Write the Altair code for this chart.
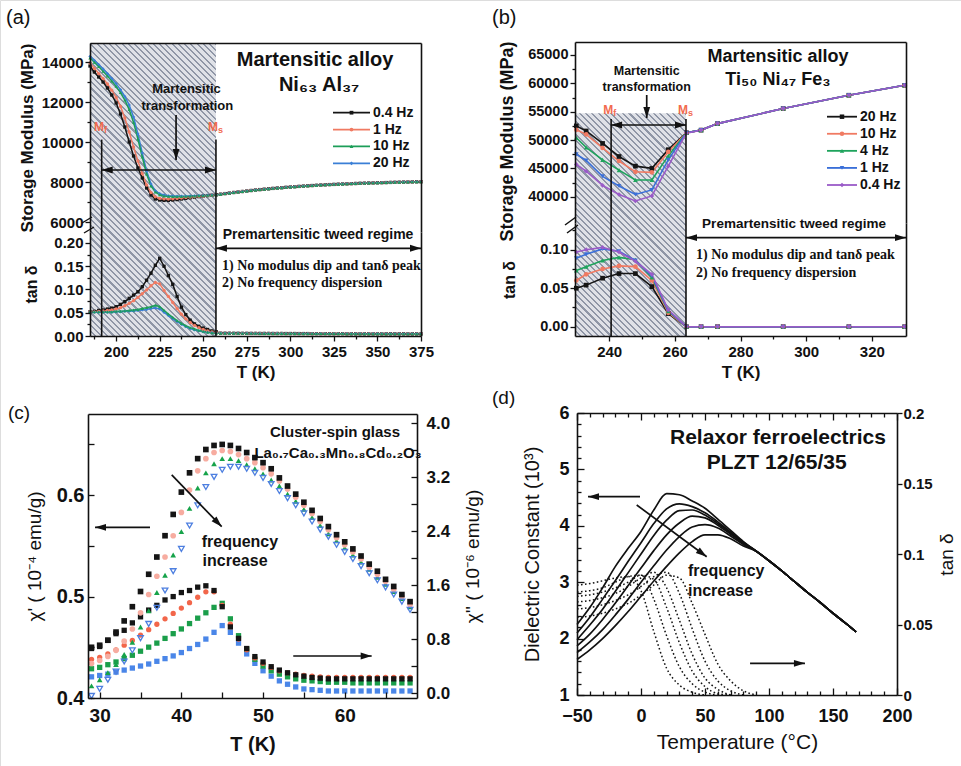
import math
import altair as alt
import pandas as pd

W, H = 961, 766
SANS = "Liberation Sans"
SERIF = "Liberation Serif"
BLK = "#111111"
RED = "#f26b4f"
LIGHT = "#dfe1e7"
DARK = "#8f96a6"

# ======================= DATA =======================
# ---- (a) Ni63Al37 ----
a_names = ["0.4 Hz", "1 Hz", "10 Hz", "20 Hz"]
a_draw = ["0.4 Hz", "1 Hz", "20 Hz", "10 Hz"]
a_colors = ["#151515", "#f07a62", "#1c9e58", "#3a7fd6"]
a_shapes = ["square", "circle", "triangle-up", "diamond"]
a_T_head = [185, 187.5, 190, 192.5, 195, 197.5, 200, 202.5, 205, 207.5,
            210, 212.5, 215, 217.5, 220, 222.5, 225, 227.5, 230, 232.5,
            235, 237.5, 240, 242.5, 245, 247.5, 250, 252.5, 255, 257.5]
a_T_tail = [260, 262.5, 265, 267.5, 270, 272.5, 275, 277.5, 280, 282.5,
            285, 287.5, 290, 292.5, 295, 297.5, 300, 302.5, 305, 307.5,
            310, 312.5, 315, 317.5, 320, 322.5, 325, 327.5, 330, 332.5,
            335, 337.5, 340, 342.5, 345, 347.5, 350, 352.5, 355, 357.5,
            360, 362.5, 365, 367.5, 370, 372.5, 375]
a_mod_head = {
    "0.4 Hz": [13800, 13500, 13250, 13000, 12700, 12350, 11950, 11400, 10750, 10000,
               9300, 8700, 8200, 7700, 7350, 7150, 7100, 7080, 7080, 7100,
               7120, 7150, 7180, 7210, 7240, 7270, 7300, 7320, 7340, 7360],
    "1 Hz": [13950, 13680, 13420, 13170, 12900, 12590, 12230, 11780, 11200, 10500,
             9750, 9050, 8420, 7850, 7470, 7260, 7180, 7160, 7150, 7160,
             7180, 7200, 7220, 7240, 7260, 7280, 7300, 7320, 7340, 7360],
    "10 Hz": [14200, 13990, 13770, 13540, 13300, 13050, 12780, 12470, 12100, 11620,
              10980, 10150, 9250, 8400, 7800, 7500, 7360, 7300, 7280, 7270,
              7270, 7270, 7280, 7290, 7300, 7310, 7320, 7330, 7345, 7360],
    "20 Hz": [14280, 14080, 13870, 13650, 13420, 13180, 12920, 12620, 12280, 11850,
              11250, 10400, 9450, 8550, 7900, 7560, 7420, 7350, 7310, 7300,
              7290, 7290, 7290, 7300, 7310, 7320, 7330, 7340, 7350, 7360],
}
a_mod_tail = [7390, 7420, 7445, 7475, 7500, 7525, 7550, 7575, 7600, 7620,
              7640, 7660, 7680, 7698, 7715, 7733, 7750, 7765, 7780, 7795,
              7810, 7823, 7835, 7848, 7860, 7870, 7880, 7890, 7900, 7909,
              7918, 7926, 7935, 7941, 7948, 7954, 7960, 7966, 7972, 7979,
              7985, 7990, 7995, 8000, 8005, 8010, 8015]
a_tan_head = {
    "0.4 Hz": [0.052, 0.053, 0.055, 0.056, 0.058, 0.060, 0.063, 0.068, 0.074, 0.081,
               0.088, 0.095, 0.106, 0.120, 0.135, 0.152, 0.167, 0.150, 0.130, 0.111,
               0.085, 0.062, 0.046, 0.034, 0.026, 0.021, 0.017, 0.014, 0.011, 0.009],
    "1 Hz": [0.052, 0.052, 0.053, 0.054, 0.055, 0.056, 0.058, 0.061, 0.065, 0.070,
             0.076, 0.083, 0.091, 0.099, 0.108, 0.115, 0.112, 0.098, 0.085, 0.072,
             0.059, 0.047, 0.037, 0.029, 0.023, 0.018, 0.014, 0.011, 0.009, 0.007],
    "10 Hz": [0.052, 0.052, 0.052, 0.052, 0.052, 0.052, 0.053, 0.053, 0.054, 0.055,
              0.056, 0.057, 0.059, 0.061, 0.063, 0.066, 0.063, 0.055, 0.047, 0.040,
              0.033, 0.027, 0.022, 0.018, 0.015, 0.012, 0.010, 0.008, 0.007, 0.006],
    "20 Hz": [0.051, 0.051, 0.051, 0.051, 0.051, 0.051, 0.052, 0.052, 0.053, 0.053,
              0.054, 0.055, 0.056, 0.057, 0.059, 0.060, 0.058, 0.051, 0.044, 0.037,
              0.031, 0.025, 0.020, 0.016, 0.013, 0.011, 0.009, 0.008, 0.007, 0.006],
}
a_tan_tail = [0.0060, 0.0059, 0.0059, 0.0058, 0.0058, 0.0057, 0.0057, 0.0056, 0.0056, 0.0055,
              0.0055, 0.0055, 0.0054, 0.0054, 0.0054, 0.0053, 0.0053, 0.0053, 0.0052, 0.0052,
              0.0052, 0.0051, 0.0051, 0.0051, 0.0051, 0.0050, 0.0050, 0.0050, 0.0050, 0.0049,
              0.0049, 0.0049, 0.0049, 0.0048, 0.0048, 0.0048, 0.0048, 0.0048, 0.0047, 0.0047,
              0.0047, 0.0047, 0.0047, 0.0046, 0.0046, 0.0046, 0.0046]
a_Mf, a_Ms = 191.7, 257.3

# ---- (b) Ti50Ni47Fe3 ----
b_names = ["20 Hz", "10 Hz", "4 Hz", "1 Hz", "0.4 Hz"]
b_colors = ["#151515", "#f07a62", "#1ea35c", "#3a6fd8", "#9a5bc8"]
b_shapes = ["square", "circle", "triangle-up", "triangle-down", "diamond"]
b_T = [230, 233, 238, 243, 248, 253, 258, 263.5, 268, 273, 293, 313, 330]
b_mod_head = {
    "20 Hz": [52500, 51600, 49400, 47100, 45400, 45000, 48300, 51300],
    "10 Hz": [51800, 51000, 48600, 46300, 44400, 44300, 47900, 51300],
    "4 Hz": [50400, 48700, 46500, 44700, 42950, 42950, 47200, 51300],
    "1 Hz": [47500, 46400, 43600, 41900, 40400, 41200, 46500, 51300],
    "0.4 Hz": [45700, 44500, 42000, 40400, 39250, 40150, 45400, 51200],
}
b_mod_tail = [51750, 52900, 55550, 57900, 59650]
b_tan_head = {
    "20 Hz": [0.050, 0.054, 0.063, 0.069, 0.069, 0.052, 0.017, 0.0],
    "10 Hz": [0.060, 0.068, 0.075, 0.079, 0.078, 0.060, 0.018, 0.0],
    "4 Hz": [0.073, 0.078, 0.086, 0.090, 0.087, 0.064, 0.020, 0.0],
    "1 Hz": [0.089, 0.094, 0.101, 0.098, 0.086, 0.066, 0.021, 0.0],
    "0.4 Hz": [0.097, 0.100, 0.103, 0.097, 0.085, 0.068, 0.022, 0.0],
}
b_tan_tail = [0.0, 0.0, 0.0, 0.0, 0.0]
b_Mf, b_Ms = 240.6, 263.4

# ---- (c) cluster-spin glass ----
c_T = [29, 30, 31, 32, 33, 34, 35, 36, 37, 38,
       39, 40, 41, 42, 43, 44, 45, 46, 47, 48,
       49, 50, 51, 52, 53, 54, 55, 56, 57, 58,
       59, 60, 61, 62, 63, 64, 65, 66, 67, 68]
c_chi1 = {
    "k": [0.450, 0.452, 0.457, 0.465, 0.476, 0.490, 0.505, 0.522, 0.539, 0.560,
          0.581, 0.603, 0.622, 0.636, 0.645, 0.649, 0.650, 0.649, 0.646, 0.642,
          0.637, 0.632, 0.626, 0.617, 0.609, 0.601, 0.593, 0.585, 0.577, 0.569,
          0.561, 0.554, 0.547, 0.540, 0.532, 0.525, 0.517, 0.510, 0.502, 0.495],
    "p": [0.434, 0.437, 0.441, 0.447, 0.456, 0.468, 0.484, 0.502, 0.520, 0.539,
          0.560, 0.583, 0.605, 0.624, 0.636, 0.642, 0.644, 0.643, 0.640, 0.636,
          0.632, 0.627, 0.621, 0.614, 0.606, 0.598, 0.590, 0.582, 0.574, 0.566,
          0.558, 0.551, 0.544, 0.537, 0.529, 0.522, 0.515, 0.507, 0.500, 0.492],
    "g": [0.412, 0.418, 0.425, 0.433, 0.443, 0.455, 0.470, 0.486, 0.504, 0.521,
          0.541, 0.564, 0.587, 0.607, 0.622, 0.631, 0.636, 0.636, 0.634, 0.630,
          0.626, 0.621, 0.615, 0.609, 0.601, 0.594, 0.586, 0.578, 0.570, 0.562,
          0.555, 0.548, 0.541, 0.534, 0.527, 0.519, 0.512, 0.505, 0.498, 0.490],
    "b": [0.402, 0.409, 0.418, 0.426, 0.436, 0.447, 0.459, 0.473, 0.489, 0.506,
          0.525, 0.547, 0.570, 0.590, 0.608, 0.618, 0.625, 0.628, 0.628, 0.626,
          0.622, 0.617, 0.611, 0.604, 0.597, 0.590, 0.582, 0.574, 0.566, 0.559,
          0.551, 0.544, 0.537, 0.530, 0.523, 0.516, 0.509, 0.502, 0.495, 0.487],
}
c_chi2 = {
    "k": [0.66, 0.69, 0.78, 0.88, 0.93, 1.04, 1.13, 1.23, 1.30, 1.38,
          1.43, 1.49, 1.52, 1.57, 1.59, 1.52, 1.28, 0.98, 0.81, 0.66,
          0.54, 0.46, 0.39, 0.34, 0.30, 0.27, 0.25, 0.23, 0.22, 0.21,
          0.21, 0.21, 0.21, 0.21, 0.21, 0.21, 0.21, 0.21, 0.21, 0.21],
    "r": [0.50, 0.53, 0.58, 0.64, 0.71, 0.78, 0.86, 0.94, 1.02, 1.10,
          1.18, 1.26, 1.34, 1.42, 1.50, 1.50, 1.30, 1.02, 0.80, 0.64,
          0.52, 0.44, 0.38, 0.33, 0.30, 0.28, 0.26, 0.25, 0.24, 0.23,
          0.23, 0.23, 0.23, 0.23, 0.23, 0.23, 0.23, 0.23, 0.23, 0.23],
    "g": [0.36, 0.38, 0.42, 0.46, 0.51, 0.56, 0.62, 0.68, 0.74, 0.81,
          0.88, 0.95, 1.03, 1.11, 1.19, 1.27, 1.33, 1.10, 0.85, 0.65,
          0.50, 0.40, 0.33, 0.28, 0.24, 0.21, 0.19, 0.18, 0.17, 0.16,
          0.16, 0.16, 0.15, 0.15, 0.15, 0.15, 0.15, 0.15, 0.15, 0.15],
    "b": [0.24, 0.26, 0.28, 0.31, 0.34, 0.37, 0.40, 0.43, 0.47, 0.51,
          0.55, 0.60, 0.66, 0.72, 0.80, 0.90, 1.00, 0.90, 0.74, 0.58,
          0.44, 0.33, 0.25, 0.18, 0.13, 0.09, 0.06, 0.05, 0.04, 0.03,
          0.03, 0.03, 0.03, 0.03, 0.03, 0.03, 0.03, 0.03, 0.03, 0.03],
}

# ---- (d) PLZT relaxor ----
d_T_head = [-50, -40, -30, -20, -10, 0, 10, 20, 30, 40, 50, 60, 70, 80]
d_T_tail = [90, 100, 110, 120, 130, 140, 150, 160, 168]
d_eps_head = {
    "e1": [2.25, 2.55, 2.90, 3.28, 3.60, 3.90, 4.28, 4.57, 4.55, 4.44, 4.31, 4.12, 3.92, 3.72],
    "e2": [2.10, 2.38, 2.70, 3.03, 3.37, 3.70, 4.04, 4.30, 4.39, 4.34, 4.23, 4.07, 3.89, 3.71],
    "e3": [1.98, 2.24, 2.52, 2.84, 3.17, 3.50, 3.83, 4.10, 4.27, 4.28, 4.19, 4.04, 3.87, 3.70],
    "e4": [1.87, 2.08, 2.34, 2.63, 2.94, 3.25, 3.56, 3.84, 4.05, 4.17, 4.14, 4.01, 3.85, 3.69],
    "e5": [1.75, 1.94, 2.16, 2.42, 2.70, 3.00, 3.29, 3.57, 3.81, 3.98, 4.02, 3.96, 3.82, 3.67],
    "e6": [1.63, 1.80, 2.00, 2.23, 2.48, 2.75, 3.02, 3.28, 3.52, 3.72, 3.84, 3.84, 3.77, 3.64],
}
d_eps_tail = [3.55, 3.38, 3.20, 3.01, 2.82, 2.64, 2.45, 2.27, 2.12]
d_tan = {
    "t1": ([-50, -40, -30, -20, -10, 0, 10, 20, 30, 40, 50],
           [0.078, 0.079, 0.081, 0.083, 0.084, 0.074, 0.045, 0.019, 0.007, 0.002, 0.0]),
    "t2": ([-50, -40, -30, -20, -10, 0, 10, 20, 30, 40, 50, 60],
           [0.073, 0.074, 0.076, 0.080, 0.084, 0.085, 0.068, 0.042, 0.020, 0.008, 0.002, 0.0]),
    "t3": ([-50, -40, -30, -20, -10, 0, 10, 20, 30, 40, 50, 60, 70],
           [0.070, 0.071, 0.073, 0.076, 0.080, 0.085, 0.082, 0.062, 0.037, 0.017, 0.006, 0.001, 0.0]),
    "t4": ([-50, -40, -30, -20, -10, 0, 10, 20, 30, 40, 50, 60, 70],
           [0.066, 0.067, 0.069, 0.072, 0.077, 0.083, 0.087, 0.076, 0.053, 0.029, 0.012, 0.004, 0.0]),
    "t5": ([-50, -40, -30, -20, -10, 0, 10, 20, 30, 40, 50, 60, 70, 80],
           [0.061, 0.062, 0.064, 0.067, 0.071, 0.077, 0.084, 0.087, 0.072, 0.047, 0.024, 0.010, 0.003, 0.0]),
    "t6": ([-50, -40, -30, -20, -10, 0, 10, 20, 30, 40, 50, 60, 70, 80, 90],
           [0.055, 0.056, 0.058, 0.061, 0.065, 0.071, 0.078, 0.085, 0.083, 0.065, 0.043, 0.022, 0.010, 0.003, 0.0]),
}


# ======================= HELPERS =======================
def lin(domain, rng):
    return (alt.Scale(domain=domain, range=rng, nice=False, zero=False), domain, rng)


def XY(xs, ys, xf="x", yf="y"):
    return dict(x=alt.X(f"{xf}:Q", scale=xs[0], axis=None),
                y=alt.Y(f"{yf}:Q", scale=ys[0], axis=None))


def px_of(s, v):
    d, r = s[1], s[2]
    return r[0] + (v - d[0]) / (d[1] - d[0]) * (r[1] - r[0])


def AX(orient, at, **kw):
    if orient == "left":
        off = -at
    elif orient == "right":
        off = at - W
    elif orient == "top":
        off = -at
    else:
        off = at - H
    base = dict(orient=orient, offset=off, grid=False, labelFlush=False,
                labelOverlap=False, domainColor=BLK, domainWidth=1.6,
                tickColor=BLK, tickWidth=1.3, labelColor=BLK, titleColor=BLK,
                labelFont=SANS, titleFont=SANS, zindex=2, title=None)
    base.update(kw)
    return alt.Axis(**base)


def carrier(xs, ys, xaxis=None, yaxis=None):
    df = pd.DataFrame({"x": [xs[1][0]], "y": [ys[1][0]]})
    return alt.Chart(df).mark_point(opacity=0, size=1).encode(
        x=alt.X("x:Q", scale=xs[0], axis=xaxis),
        y=alt.Y("y:Q", scale=ys[0], axis=yaxis))


def long_df(T, values, order):
    rows = []
    for s in order:
        for t, v in zip(T, values[s]):
            rows.append({"T": t, "v": v, "s": s})
    return pd.DataFrame(rows)


def series(df, xs, ys, names, colors, shapes, size, sw, line=True, filled=True,
           point_sw=1.0):
    col = alt.Color("s:N", scale=alt.Scale(domain=names, range=colors), legend=None)
    shp = alt.Shape("s:N", scale=alt.Scale(domain=names, range=shapes), legend=None)
    enc = dict(x=alt.X("T:Q", scale=xs[0], axis=None),
               y=alt.Y("v:Q", scale=ys[0], axis=None), color=col)
    out = []
    if line:
        out.append(alt.Chart(df).mark_line(strokeWidth=sw).encode(**enc))
    out.append(alt.Chart(df).mark_point(filled=filled, size=size, opacity=1,
                                        strokeWidth=point_sw).encode(shape=shp, **enc))
    return out


def text_at(xs, ys, x, y, t, **kw):
    df = pd.DataFrame({"x": [x], "y": [y], "t": [t]})
    mk = dict(font=SANS, color=BLK)
    mk.update(kw)
    return alt.Chart(df).mark_text(**mk).encode(text="t:N", **XY(xs, ys))


ARROW = "M0,0L-2,-0.62L-2,0.62Z"


def arrow(xs, ys, x0, y0, x1, y1, angle, head=121, sw=1.7, double=False):
    df = pd.DataFrame({"x": [x0], "y": [y0], "x2": [x1], "y2": [y1]})
    shaft = alt.Chart(df).mark_rule(color=BLK, strokeWidth=sw).encode(
        x2="x2:Q", y2="y2:Q", **XY(xs, ys))
    heads = [{"x": x1, "y": y1, "a": angle}]
    if double:
        heads.append({"x": x0, "y": y0, "a": (angle + 180) % 360})
    hd = alt.Chart(pd.DataFrame(heads)).mark_point(
        shape=ARROW, filled=True, color=BLK, size=head, opacity=1, strokeWidth=0).encode(
        angle=alt.Angle("a:Q", scale=None), **XY(xs, ys))
    return [shaft, hd]


def vline(xs, ys, x, y0, y1, sw=1.6):
    df = pd.DataFrame({"x": [x], "y": [y0], "y2": [y1]})
    return alt.Chart(df).mark_rule(color=BLK, strokeWidth=sw).encode(y2="y2:Q", **XY(xs, ys))


def hatch(xs, ys, x0, x1, ytop, ybot_px, period=4.4):
    wpx = px_of(xs, x1) - px_of(xs, x0)
    hpx = ybot_px - px_of(ys, ytop)
    c = (wpx + hpx) / (wpx ** 2 + hpx ** 2)
    n = int(round((wpx + hpx) / math.sqrt(2) / period))
    stops = []
    for i in range(n):
        a, b, e = i / n, (i + 0.66) / n, (i + 1) / n
        stops += [alt.GradientStop(offset=a, color=LIGHT), alt.GradientStop(offset=b, color=LIGHT),
                  alt.GradientStop(offset=b, color=DARK), alt.GradientStop(offset=min(e, 1), color=DARK)]
    grad = alt.LinearGradient(gradient="linear", stops=stops, x1=0, y1=1,
                              x2=c * wpx, y2=1 - c * hpx)
    df = pd.DataFrame({"x": [x0], "x2": [x1], "y": [ytop]})
    return alt.Chart(df).mark_rect(fill=grad, strokeWidth=0).encode(
        x2="x2:Q", y2=alt.value(ybot_px), **XY(xs, ys))


def mlabel(xs, ys, x, y, sub):
    return [text_at(xs, ys, x, y, "M", fontSize=12, fontWeight="bold", color=RED,
                    align="center", baseline="middle", dx=-2),
            text_at(xs, ys, x, y, sub, fontSize=9, fontWeight="bold", color=RED,
                    align="left", baseline="middle", dx=3, dy=3)]


def legend(names, colors, shapes, ypx, x0, x1, xt, size, fs):
    df = pd.DataFrame({"s": names})
    Y = alt.Y("s:N", scale=alt.Scale(type="point", domain=names, range=ypx, padding=0), axis=None)
    col = alt.Color("s:N", scale=alt.Scale(domain=names, range=colors), legend=None)
    shp = alt.Shape("s:N", scale=alt.Scale(domain=names, range=shapes), legend=None)
    return [alt.Chart(df).mark_rule(strokeWidth=1.8).encode(x=alt.value(x0), x2=alt.value(x1), y=Y, color=col),
            alt.Chart(df).mark_point(filled=True, size=size, opacity=1).encode(
                x=alt.value((x0 + x1) / 2), y=Y, color=col, shape=shp),
            alt.Chart(df).mark_text(align="left", baseline="middle", fontSize=fs, fontWeight="bold",
                                    font=SANS, color=BLK).encode(x=alt.value(xt), y=Y, text="s:N")]


def slash(x0, y0, x1, y1, sw=1.4):
    df = pd.DataFrame({"k": [0]})
    return alt.Chart(df).mark_rule(color=BLK, strokeWidth=sw).encode(
        x=alt.value(x0), y=alt.value(y0), x2=alt.value(x1), y2=alt.value(y1))


def plabel(x, y, t, fs=20):
    df = pd.DataFrame({"t": [t]})
    return alt.Chart(df).mark_text(align="left", baseline="middle", fontSize=fs, font=SANS,
                                   color=BLK).encode(x=alt.value(x), y=alt.value(y), text="t:N")


layers = []

# ======================= PANEL (a) =======================
xa = lin([185, 375], [90, 421])
ya_t = lin([5500, 14950], [232, 43])
ya_b = lin([0, 0.2236], [336, 232])

layers.append(hatch(xa, ya_t, 185, a_Ms, 14950, 336))
a_full_T = a_T_head + a_T_tail
a_mod = {s: a_mod_head[s] + a_mod_tail for s in a_names}
a_tan = {s: a_tan_head[s] + a_tan_tail for s in a_names}
layers += series(long_df(a_full_T, a_mod, a_draw), xa, ya_t, a_names, a_colors, a_shapes, 11, 1.5)
layers += series(long_df(a_full_T, a_tan, a_draw), xa, ya_b, a_names, a_colors, a_shapes, 11, 1.5)

for xm in (a_Mf, a_Ms):
    layers.append(vline(xa, ya_t, xm, 10120, 5500))
    layers.append(vline(xa, ya_b, xm, 0.2236, 0))
layers += arrow(xa, ya_t, a_Mf, 8600, a_Ms, 8600, 0, double=True)
layers += arrow(xa, ya_t, 234.4, 11350, 234.4, 9100, 90)
layers += mlabel(xa, ya_t, 191.3, 10750, "f")
layers += mlabel(xa, ya_t, 256.8, 10750, "s")
layers.append(text_at(xa, ya_t, 240.4, 12650, "Martensitic", fontSize=13, fontWeight="bold"))
layers.append(text_at(xa, ya_t, 240.9, 11800, "transformation", fontSize=13, fontWeight="bold"))
layers.append(text_at(xa, ya_t, 314.2, 14100, "Martensitic alloy", fontSize=20, fontWeight="bold"))
layers.append(text_at(xa, ya_t, 316.5, 12850, "Ni₆₃ Al₃₇", fontSize=20, fontWeight="bold"))
layers.append(text_at(xa, ya_b, 315.9, 0.2182, "Premartensitic tweed regime", fontSize=14, fontWeight="bold"))
layers += arrow(xa, ya_b, a_Ms, 0.1886, 375, 0.1886, 0, double=True)
layers.append(text_at(xa, ya_b, 260.8, 0.1505, "1) No modulus dip and tanδ peak", font=SERIF,
                      fontSize=14, fontWeight="bold", align="left"))
layers.append(text_at(xa, ya_b, 260.8, 0.1140, "2) No frequency dispersion", font=SERIF,
                      fontSize=14, fontWeight="bold", align="left"))
layers += legend(a_names, a_colors, a_shapes, [112.7, 163.3], 333, 370, 373, 14, 14)

B15 = dict(labelFontSize=15, labelFontWeight="bold")
layers.append(carrier(xa, ya_t,
                      xaxis=AX("top", 43, labels=False, ticks=False),
                      yaxis=AX("left", 90, values=[6000, 8000, 10000, 12000, 14000], format="d", tickSize=5,
                               labelPadding=2, title="Storage Modulus (MPa)", titleFontSize=17,
                               titleFontWeight="bold", titlePadding=5, **B15)))
layers.append(carrier(xa, ya_t, yaxis=AX("left", 90, values=[7000, 9000, 11000, 13000], labels=False,
                                         domain=False, tickSize=3)))
layers.append(carrier(xa, ya_t, yaxis=AX("right", 421, labels=False, ticks=False)))
layers.append(carrier(xa, ya_b,
                      xaxis=AX("bottom", 336, values=[200, 225, 250, 275, 300, 325, 350, 375], tickSize=5,
                               labelPadding=3, title="T (K)", titleFontSize=17, titleFontWeight="bold",
                               titlePadding=5, **B15),
                      yaxis=AX("left", 90, values=[0, 0.05, 0.10, 0.15, 0.20], format=".2f", tickSize=5,
                               labelPadding=2, title="tan δ", titleFontSize=16, titleFontWeight="bold",
                               titlePadding=14, **B15)))
layers.append(carrier(xa, ya_b,
                      xaxis=AX("bottom", 336, values=[187.5, 212.5, 237.5, 262.5, 287.5, 312.5, 337.5, 362.5],
                               labels=False, domain=False, tickSize=3),
                      yaxis=AX("left", 90, values=[0.025, 0.075, 0.125, 0.175], labels=False,
                               domain=False, tickSize=3)))
layers.append(carrier(xa, ya_b, yaxis=AX("right", 421, labels=False, ticks=False)))
layers.append(slash(82, 223, 92, 217))
layers.append(slash(84, 233, 94, 227))

# ======================= PANEL (b) =======================
xb = lin([229.6, 330.4], [575, 906])
yb_t = lin([35370, 67290], [223, 42])
yb_b = lin([-0.0121, 0.1347], [336, 223])

layers.append(hatch(xb, yb_t, 229.6, b_Ms, 54716, 336))
b_mod = {s: b_mod_head[s] + b_mod_tail for s in b_names}
b_tan = {s: b_tan_head[s] + b_tan_tail for s in b_names}
layers += series(long_df(b_T, b_mod, b_names), xb, yb_t, b_names, b_colors, b_shapes, 22, 1.6)
layers += series(long_df(b_T, b_tan, b_names), xb, yb_b, b_names, b_colors, b_shapes, 22, 1.6)

for xm in (b_Mf, b_Ms):
    layers.append(vline(xb, yb_t, xm, 53710, 35370))
    layers.append(vline(xb, yb_b, xm, 0.1347, -0.0121))
layers += arrow(xb, yb_t, b_Mf, 52652, b_Ms, 52652, 0, double=True)
layers += arrow(xb, yb_t, 251.44, 57943, 251.44, 53887, 90)
layers += mlabel(xb, yb_t, 240.3, 55297, "f")
layers += mlabel(xb, yb_t, 263.1, 55297, "s")
layers.append(text_at(xb, yb_t, 251.44, 62228, "Martensitic", fontSize=12.5, fontWeight="bold"))
layers.append(text_at(xb, yb_t, 251.44, 59300, "transformation", fontSize=12.5, fontWeight="bold"))
layers.append(text_at(xb, yb_t, 291.4, 64644, "Martensitic alloy", fontSize=18, fontWeight="bold"))
layers.append(text_at(xb, yb_t, 291.4, 60588, "Ti₅₀ Ni₄₇ Fe₃", fontSize=18, fontWeight="bold"))
layers.append(text_at(xb, yb_b, 296.3, 0.1334, "Premartensitic tweed regime", fontSize=13.5, fontWeight="bold"))
layers += arrow(xb, yb_b, b_Ms, 0.1156, 330.4, 0.1156, 0, double=True)
layers.append(text_at(xb, yb_b, 266.45, 0.0925, "1) No modulus dip and tanδ peak", font=SERIF,
                      fontSize=14, fontWeight="bold", align="left"))
layers.append(text_at(xb, yb_b, 266.45, 0.0697, "2) No frequency dispersion", font=SERIF,
                      fontSize=14, fontWeight="bold", align="left"))
layers += legend(b_names, b_colors, b_shapes, [116.7, 185], 827, 857, 860, 20, 14)

B14 = dict(labelFontSize=14.5, labelFontWeight="bold")
layers.append(carrier(xb, yb_t,
                      xaxis=AX("top", 42, labels=False, ticks=False),
                      yaxis=AX("left", 575, values=[40000, 45000, 50000, 55000, 60000, 65000], format="d",
                               tickSize=5, labelPadding=2, title="Storage Modulus (MPa)", titleFontSize=18,
                               titleFontWeight="bold", titlePadding=11, titleY=141, **B14)))
layers.append(carrier(xb, yb_t, yaxis=AX("left", 575, values=[42500, 47500, 52500, 57500, 62500],
                                         labels=False, domain=False, tickSize=3)))
layers.append(carrier(xb, yb_t, yaxis=AX("right", 906, labels=False, ticks=False)))
layers.append(carrier(xb, yb_b,
                      xaxis=AX("bottom", 336, values=[240, 260, 280, 300, 320], tickSize=5,
                               labelPadding=3, title="T (K)", titleFontSize=17, titleFontWeight="bold",
                               titlePadding=5, labelFontSize=15, labelFontWeight="bold"),
                      yaxis=AX("left", 575, values=[0, 0.05, 0.10], format=".2f", tickSize=5,
                               labelPadding=2, title="tan δ", titleFontSize=16, titleFontWeight="bold",
                               titlePadding=22, **B14)))
layers.append(carrier(xb, yb_b,
                      xaxis=AX("bottom", 336, values=[250, 270, 290, 310], labels=False, domain=False,
                               tickSize=3),
                      yaxis=AX("left", 575, values=[0.025, 0.075, 0.125], labels=False, domain=False,
                               tickSize=3)))
layers.append(carrier(xb, yb_b, yaxis=AX("right", 906, labels=False, ticks=False)))
layers.append(slash(565, 225, 576, 217))
layers.append(slash(567, 233, 578, 225))

# ======================= PANEL (c) =======================
xc = lin([28.57, 68.85], [88, 417])
yc_l = lin([0.4, 0.68], [698, 414])
yc_r = lin([-0.074, 4.138], [698, 414])

c2_names = ["b", "g", "r", "k"]
layers += series(long_df(c_T, c_chi2, c2_names), xc, yc_r, c2_names,
                 ["#4a86e8", "#1a9e4a", "#f2664a", "#151515"],
                 ["square", "square", "circle", "square"], 28, 1, line=False)
c1_names = ["g", "p", "k"]
layers += series(long_df(c_T, c_chi1, c1_names), xc, yc_l, c1_names,
                 ["#16a34a", "#f7aca0", "#151515"],
                 ["triangle-up", "circle", "square"], 32, 1, line=False)
layers += series(long_df(c_T, c_chi1, ["b"]), xc, yc_l, ["b"], ["#4d7fe0"], ["triangle-down"],
                 32, 1, line=False, filled=False, point_sw=1.3)

layers.append(text_at(xc, yc_l, 58.81, 0.6625, "Cluster-spin glass", fontSize=15, fontWeight="bold"))
layers.append(text_at(xc, yc_l, 59.18, 0.6413, "La₀.₇Ca₀.₃Mn₀.₈Cd₀.₂O₃", fontSize=15, fontWeight="bold"))
layers += arrow(xc, yc_l, 36.16, 0.5683, 29.43, 0.5683, 180)
layers += arrow(xc, yc_l, 38.82, 0.6199, 44.94, 0.5689, 46)
layers += arrow(xc, yc_l, 53.7, 0.4414, 63.3, 0.4414, 0)
layers.append(text_at(xc, yc_l, 42.49, 0.5541, "frequency", fontSize=16, fontWeight="bold", align="left"))
layers.append(text_at(xc, yc_l, 42.6, 0.5351, "increase", fontSize=16, fontWeight="bold", align="left"))

layers.append(carrier(xc, yc_l,
                      xaxis=AX("bottom", 698, values=[30, 40, 50, 60], ticks=False, labelPadding=8,
                               labelFontSize=19, labelFontWeight="bold", title="T (K)", titleFontSize=20,
                               titleFontWeight="bold", titlePadding=9),
                      yaxis=AX("left", 88, values=[0.4, 0.5, 0.6], format=".1f", ticks=False,
                               labelPadding=4, labelFontSize=20, labelFontWeight="bold",
                               title="χ' ( 10⁻⁴ emu/g)", titleFontSize=19, titleFontWeight="normal",
                               titlePadding=12)))
layers.append(carrier(xc, yc_l,
                      xaxis=AX("top", 698, values=[30, 35, 40, 45, 50, 55, 60, 65], labels=False,
                               domain=False, tickSize=6),
                      yaxis=AX("right", 88, values=[0.4, 0.45, 0.5, 0.55, 0.6, 0.65], labels=False,
                               domain=False, tickSize=6)))
layers.append(carrier(xc, yc_r,
                      xaxis=AX("top", 414, labels=False, ticks=False),
                      yaxis=AX("right", 417, values=[0, 0.8, 1.6, 2.4, 3.2, 4.0], format=".1f", ticks=False,
                               labelPadding=9, labelFontSize=17, labelFontWeight="bold",
                               title="χ'' ( 10⁻⁶ emu/g)", titleFontSize=19, titleFontWeight="normal",
                               titleAngle=270, titleBaseline="top", titlePadding=14)))
layers.append(carrier(xc, yc_r, yaxis=AX("left", 417, values=[0, 0.4, 0.8, 1.2, 1.6, 2.0, 2.4, 2.8, 3.2, 3.6, 4.0],
                                         labels=False, domain=False, tickSize=6)))

# ======================= PANEL (d) =======================
xd = lin([-50, 200], [577, 897])
yd_l = lin([1, 6], [695, 413])
yd_r = lin([0, 0.2], [695, 413])

eps_names = ["e1", "e2", "e3", "e4", "e5", "e6"]
eps_vals = {s: d_eps_head[s] + d_eps_tail for s in eps_names}
eps_df = long_df(d_T_head + d_T_tail, eps_vals, eps_names)
layers.append(alt.Chart(eps_df).mark_line(color=BLK, strokeWidth=1.7, interpolate="monotone").encode(
    x=alt.X("T:Q", scale=xd[0], axis=None), y=alt.Y("v:Q", scale=yd_l[0], axis=None), detail="s:N"))
tan_rows = []
for s, (tt, vv) in d_tan.items():
    for t, v in zip(tt, vv):
        tan_rows.append({"T": t, "v": v, "s": s})
tan_df = pd.DataFrame(tan_rows)
layers.append(alt.Chart(tan_df).mark_line(color=BLK, strokeWidth=1.5, strokeDash=[1.6, 2.4],
                                          interpolate="monotone").encode(
    x=alt.X("T:Q", scale=xd[0], axis=None), y=alt.Y("v:Q", scale=yd_r[0], axis=None), detail="s:N"))

layers.append(text_at(xd, yd_l, 107.0, 5.562, "Relaxor ferroelectrics", fontSize=21, fontWeight="bold"))
layers.append(text_at(xd, yd_l, 106.0, 5.113, "PLZT 12/65/35", fontSize=21, fontWeight="bold"))
layers += arrow(xd, yd_l, -0.78, 4.516, -41.4, 4.516, 180)
layers += arrow(xd, yd_l, -3.36, 4.369, 51.33, 3.452, 36)
layers += arrow(xd, yd_l, 85.2, 1.562, 128.1, 1.562, 0)
layers.append(text_at(xd, yd_l, 36.7, 3.204, "frequency", fontSize=16, fontWeight="bold", align="left"))
layers.append(text_at(xd, yd_l, 36.7, 2.849, "increase", fontSize=16, fontWeight="bold", align="left"))

layers.append(carrier(xd, yd_l,
                      xaxis=AX("bottom", 695, values=[-50, 0, 50, 100, 150, 200], ticks=False, labelPadding=12,
                               labelFontSize=18, labelFontWeight="bold", title="Temperature (°C)",
                               titleFontSize=21, titleFontWeight="normal", titlePadding=6),
                      yaxis=AX("left", 577, values=[1, 2, 3, 4, 5, 6], ticks=False, labelPadding=8,
                               labelFontSize=18, labelFontWeight="bold", title="Dielectric Constant (10³)",
                               titleFontSize=20, titleFontWeight="normal", titlePadding=16)))
layers.append(carrier(xd, yd_l,
                      xaxis=AX("top", 695, values=[-50, 0, 50, 100, 150, 200], labels=False, domain=False,
                               tickSize=7),
                      yaxis=AX("right", 577, values=[1, 2, 3, 4, 5, 6], labels=False, domain=False, tickSize=7)))
layers.append(carrier(xd, yd_l,
                      xaxis=AX("top", 695, values=[-40, -30, -20, -10, 10, 20, 30, 40, 60, 70, 80, 90,
                                                   110, 120, 130, 140, 160, 170, 180, 190],
                               labels=False, domain=False, tickSize=4),
                      yaxis=AX("right", 577, values=[1.2, 1.4, 1.6, 1.8, 2.2, 2.4, 2.6, 2.8, 3.2, 3.4, 3.6, 3.8,
                                                     4.2, 4.4, 4.6, 4.8, 5.2, 5.4, 5.6, 5.8],
                               labels=False, domain=False, tickSize=4)))
layers.append(carrier(xd, yd_r,
                      xaxis=AX("bottom", 413, values=[-50, 0, 50, 100, 150, 200], labels=False, domain=True,
                               tickSize=7),
                      yaxis=AX("right", 897, values=[0, 0.05, 0.1, 0.15, 0.2], format=".2~f", tickSize=5,
                               labelPadding=1, labelFontSize=15, labelFontWeight="bold", title="tan δ",
                               titleFontSize=19, titleFontWeight="normal", titleAngle=270,
                               titleBaseline="top", titlePadding=5)))
layers.append(carrier(xd, yd_r,
                      xaxis=AX("bottom", 413, values=[-40, -30, -20, -10, 10, 20, 30, 40, 60, 70, 80, 90,
                                                      110, 120, 130, 140, 160, 170, 180, 190],
                               labels=False, domain=False, tickSize=4)))

# ======================= panel letters =======================
layers.append(plabel(6, 18, "(a)"))
layers.append(plabel(492, 18, "(b)"))
layers.append(plabel(8, 413, "(c)", fs=19))
layers.append(plabel(492, 398, "(d)", fs=19))

chart = alt.layer(*layers).resolve_scale(
    x="independent", y="independent", color="independent", shape="independent"
).resolve_axis(x="independent", y="independent").properties(
    width=W, height=H, autosize=alt.AutoSizeParams(type="none"), padding=0,
    background="white"
).configure_view(strokeWidth=0).configure(font=SANS)

chart.save("out.html", embed_options={"renderer": "svg", "actions": False})
